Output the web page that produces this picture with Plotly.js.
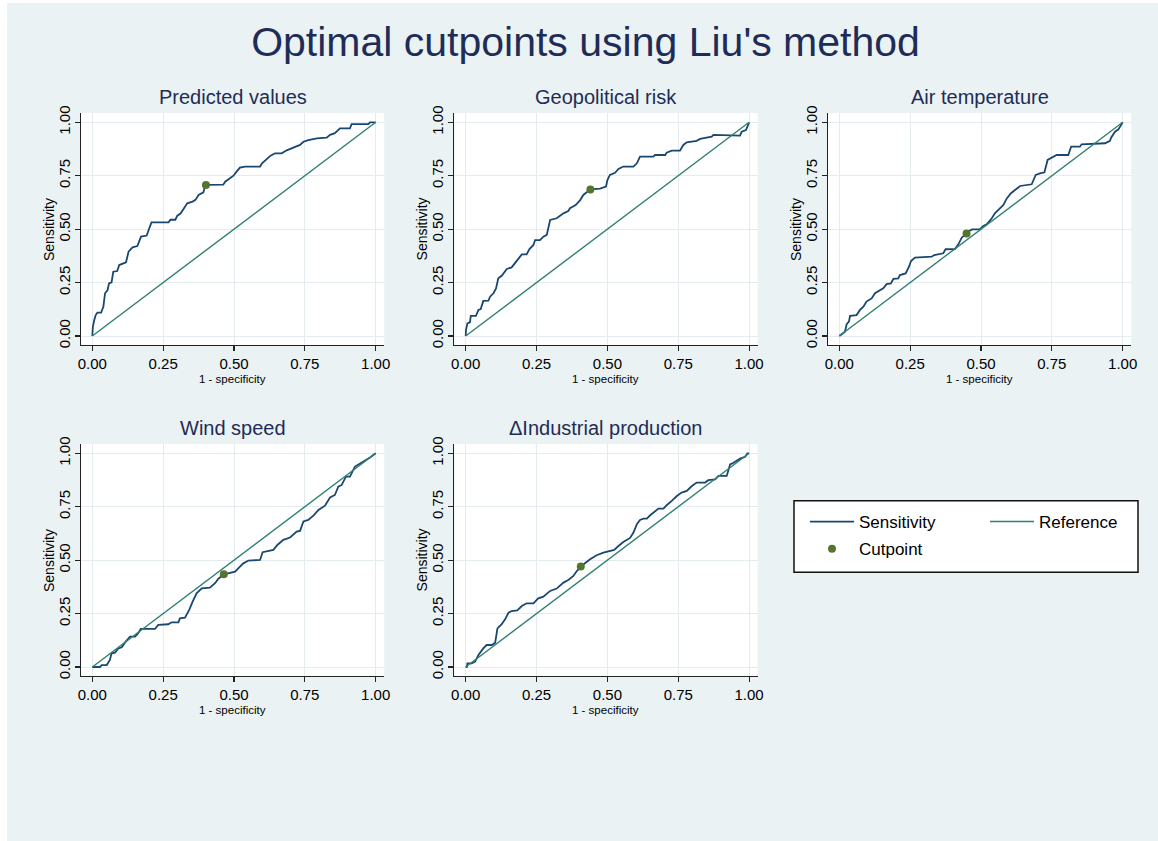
<!DOCTYPE html>
<html>
<head>
<meta charset="utf-8">
<script src="https://cdn.plot.ly/plotly-3.0.1.min.js"></script>
<style>
  html, body { margin: 0; padding: 0; background: #ffffff; }
  #chart { position: absolute; left: 7px; top: 3px; width: 1151px; height: 838px; }
</style>
</head>
<body>
<div id="chart"></div>
<script>
// ---------------- DATA ----------------
const mainTitle = "Optimal cutpoints using Liu's method";
const panelTitles = ["Predicted values", "Geopolitical risk", "Air temperature", "Wind speed", "\u0394Industrial production"];
const xAxisLabel = "1 - specificity";
const yAxisLabel = "Sensitivity";
const tickValues = [0, 0.25, 0.5, 0.75, 1];
const tickLabels = ["0.00", "0.25", "0.50", "0.75", "1.00"];
const seriesNames = ["Sensitivity", "Reference", "Cutpoint"];

const refX = [0, 1];
const refY = [0, 1];

const predFpr = [0,0.002,0.007,0.012,0.018,0.031,0.039,0.045,0.054,0.059,0.068,0.074,0.088,0.095,0.119,0.128,0.142,0.159,0.172,0.192,0.201,0.209,0.269,0.276,0.293,0.300,0.312,0.324,0.335,0.354,0.364,0.375,0.392,0.399,0.462,0.469,0.484,0.498,0.509,0.521,0.539,0.592,0.599,0.615,0.629,0.645,0.668,0.686,0.709,0.733,0.745,0.762,0.792,0.827,0.839,0.856,0.874,0.909,0.915,0.974,0.980,1];
const predSens = [0,0.044,0.075,0.098,0.109,0.109,0.137,0.200,0.215,0.246,0.251,0.301,0.304,0.332,0.345,0.395,0.415,0.421,0.465,0.470,0.504,0.532,0.532,0.544,0.544,0.563,0.574,0.598,0.621,0.629,0.637,0.660,0.672,0.707,0.708,0.722,0.738,0.750,0.769,0.788,0.793,0.793,0.808,0.828,0.844,0.855,0.855,0.869,0.881,0.894,0.909,0.917,0.925,0.928,0.941,0.949,0.972,0.972,0.991,0.991,1,1];

const geoFpr = [0,0.001,0.006,0.015,0.018,0.036,0.045,0.053,0.062,0.080,0.086,0.098,0.107,0.115,0.127,0.145,0.162,0.174,0.184,0.198,0.215,0.225,0.239,0.245,0.262,0.274,0.286,0.292,0.298,0.321,0.345,0.362,0.368,0.388,0.404,0.415,0.431,0.440,0.474,0.495,0.500,0.509,0.527,0.539,0.556,0.592,0.604,0.615,0.662,0.668,0.704,0.709,0.727,0.756,0.768,0.780,0.815,0.827,0.868,0.874,0.968,0.974,0.989,1];
const geoSens = [0,0.028,0.059,0.064,0.094,0.094,0.122,0.126,0.164,0.165,0.184,0.200,0.223,0.270,0.282,0.314,0.321,0.340,0.356,0.382,0.382,0.407,0.426,0.449,0.449,0.465,0.473,0.512,0.543,0.551,0.574,0.585,0.598,0.613,0.636,0.660,0.675,0.686,0.690,0.699,0.730,0.754,0.764,0.782,0.793,0.793,0.808,0.839,0.839,0.847,0.847,0.858,0.867,0.867,0.894,0.906,0.913,0.922,0.933,0.941,0.938,0.956,0.964,1];

const airFpr = [0,0.011,0.020,0.026,0.034,0.038,0.061,0.073,0.085,0.096,0.114,0.126,0.138,0.155,0.167,0.182,0.191,0.208,0.214,0.234,0.246,0.253,0.267,0.326,0.335,0.367,0.375,0.408,0.420,0.432,0.449,0.453,0.469,0.496,0.508,0.520,0.538,0.549,0.564,0.579,0.591,0.606,0.620,0.638,0.679,0.693,0.708,0.724,0.735,0.749,0.767,0.808,0.818,0.849,0.855,0.938,0.944,0.955,0.959,0.973,0.985,1];
const airSens = [0,0.012,0.020,0.055,0.067,0.094,0.098,0.122,0.137,0.161,0.176,0.200,0.211,0.223,0.243,0.246,0.267,0.270,0.285,0.293,0.324,0.351,0.367,0.371,0.379,0.387,0.406,0.407,0.429,0.460,0.480,0.488,0.499,0.499,0.515,0.523,0.551,0.574,0.594,0.613,0.644,0.668,0.683,0.702,0.710,0.754,0.761,0.766,0.824,0.835,0.847,0.847,0.886,0.886,0.897,0.902,0.906,0.913,0.928,0.956,0.967,1];

const windFpr = [0,0.027,0.033,0.051,0.062,0.068,0.080,0.092,0.104,0.115,0.133,0.151,0.162,0.171,0.221,0.233,0.268,0.280,0.304,0.309,0.327,0.342,0.354,0.368,0.386,0.415,0.433,0.445,0.464,0.504,0.521,0.533,0.551,0.592,0.601,0.627,0.639,0.653,0.674,0.698,0.721,0.733,0.745,0.762,0.782,0.798,0.821,0.839,0.856,0.868,0.880,0.895,0.909,0.927,0.945,0.962,0.980,1];
const windSens = [0,0,0.009,0.009,0.033,0.064,0.067,0.087,0.092,0.114,0.142,0.142,0.158,0.178,0.178,0.197,0.200,0.209,0.209,0.228,0.231,0.267,0.306,0.345,0.368,0.371,0.392,0.413,0.434,0.446,0.470,0.485,0.498,0.501,0.537,0.543,0.548,0.571,0.595,0.606,0.634,0.637,0.681,0.688,0.711,0.735,0.755,0.793,0.805,0.844,0.852,0.891,0.891,0.938,0.953,0.964,0.980,1];

const indFpr = [0,0.004,0.006,0.021,0.033,0.045,0.062,0.074,0.092,0.104,0.112,0.127,0.139,0.151,0.162,0.182,0.198,0.215,0.239,0.256,0.274,0.298,0.321,0.345,0.362,0.380,0.392,0.406,0.415,0.439,0.462,0.486,0.509,0.524,0.539,0.556,0.580,0.592,0.604,0.615,0.627,0.639,0.651,0.668,0.680,0.698,0.709,0.727,0.745,0.762,0.780,0.798,0.815,0.845,0.856,0.880,0.892,0.921,0.933,0.945,0.968,0.986,0.994,1];
const indSens = [0,0,0.017,0.017,0.025,0.056,0.087,0.103,0.103,0.114,0.181,0.200,0.223,0.254,0.262,0.265,0.285,0.298,0.298,0.321,0.329,0.356,0.367,0.395,0.407,0.426,0.449,0.470,0.480,0.504,0.523,0.535,0.543,0.548,0.566,0.585,0.604,0.629,0.668,0.688,0.694,0.694,0.710,0.730,0.741,0.741,0.757,0.777,0.800,0.816,0.824,0.847,0.863,0.863,0.874,0.878,0.894,0.894,0.948,0.956,0.975,0.984,1,1];

const cutFpr = [0.401, 0.440, 0.449, 0.464, 0.406];
const cutSens = [0.707, 0.686, 0.480, 0.434, 0.470];

const panelFpr = [predFpr, geoFpr, airFpr, windFpr, indFpr];
const panelSens = [predSens, geoSens, airSens, windSens, indSens];

// ---------------- STYLE / LAYOUT ----------------
const W = 1151, H = 838, OX = 7, OY = 3;   // div size and page offset
const PXU = 283.4, PYU = 213.7;            // pixels per data unit
const xRange = [-0.04, 1.03], yRange = [-0.042, 1.043];
// page pixel position of data (0, 1) for each panel
const panelOrigins = [[92.3, 122.3], [465.7, 122.3], [839.3, 122.3], [92.3, 453.3], [465.7, 453.3]];

const navy = '#1a476f', refColor = '#2f7f6f', cutColor = '#55752f';
const bg = '#eaf2f3', titleColor = '#1e2c57', gridColor = '#e4ecef';
const FONT = 'Liberation Sans, Arial, sans-serif';

const traces = [];
const layout = {
  width: W, height: H,
  margin: {l: 0, r: 0, t: 0, b: 0},
  paper_bgcolor: bg, plot_bgcolor: '#ffffff',
  font: {family: FONT, color: '#000000'},
  title: {text: mainTitle, font: {size: 41, color: titleColor, family: FONT},
          xref: 'container', yref: 'container', x: (585.5 - OX) / W, y: 1 - (42 - OY) / H,
          xanchor: 'center', yanchor: 'middle'},
  showlegend: true,
  legend: {x: (805 - OX) / W, y: 1 - (504 - OY) / H, xanchor: 'left', yanchor: 'top',
           bgcolor: 'rgba(0,0,0,0)', borderwidth: 0, font: {size: 17, family: FONT},
           itemwidth: 44, tracegroupgap: 2, traceorder: 'grouped'},
  legend2: {x: (985 - OX) / W, y: 1 - (504 - OY) / H, xanchor: 'left', yanchor: 'top',
           bgcolor: 'rgba(0,0,0,0)', borderwidth: 0, font: {size: 17, family: FONT},
           itemwidth: 44},
  annotations: [],
  shapes: [{type: 'rect', xref: 'paper', yref: 'paper', layer: 'below',
            x0: (794 - OX) / W, x1: (1138 - OX) / W, y0: 1 - (572.3 - OY) / H, y1: 1 - (500.7 - OY) / H,
            fillcolor: '#ffffff', line: {color: '#111111', width: 1.5}}]
};

panelOrigins.forEach(function(o, i) {
  const n = i + 1;
  const xa = 'xaxis' + (n === 1 ? '' : n), ya = 'yaxis' + (n === 1 ? '' : n);
  const xr = 'x' + (n === 1 ? '' : n), yr = 'y' + (n === 1 ? '' : n);
  const left = o[0] + xRange[0] * PXU, right = o[0] + xRange[1] * PXU;
  const top = o[1] - (yRange[1] - 1) * PYU, bottom = o[1] + (1 - yRange[0]) * PYU;
  const common = {
    showgrid: true, gridcolor: gridColor, gridwidth: 1, zeroline: false,
    showline: true, linecolor: '#222222', linewidth: 1.2, mirror: false,
    ticks: 'outside', ticklen: 5, tickwidth: 1.2, tickcolor: '#222222',
    tickvals: tickValues, ticktext: tickLabels,
    tickfont: {size: 15, family: FONT, color: '#000000'}, fixedrange: true
  };
  layout[xa] = Object.assign({}, common, {domain: [(left - OX) / W, (right - OX) / W], range: xRange, anchor: yr});
  layout[ya] = Object.assign({}, common, {domain: [1 - (bottom - OY) / H, 1 - (top - OY) / H], range: yRange,
                                         anchor: xr, tickangle: -90, ticklabelstandoff: -1});

  traces.push({type: 'scatter', mode: 'lines', x: panelFpr[i], y: panelSens[i], xaxis: xr, yaxis: yr,
               name: seriesNames[0], line: {color: navy, width: 1.8}, showlegend: i === 0,
               legend: 'legend', legendgroup: 'a', hoverinfo: 'skip'});
  traces.push({type: 'scatter', mode: 'lines', x: refX, y: refY, xaxis: xr, yaxis: yr,
               name: seriesNames[1], line: {color: refColor, width: 1.4}, showlegend: i === 0,
               legend: 'legend2', legendgroup: 'b', hoverinfo: 'skip'});
  traces.push({type: 'scatter', mode: 'markers', x: [cutFpr[i]], y: [cutSens[i]], xaxis: xr, yaxis: yr,
               name: seriesNames[2], marker: {color: cutColor, size: 8}, showlegend: i === 0,
               legend: 'legend', legendgroup: 'c', hoverinfo: 'skip'});

  layout.annotations.push({text: panelTitles[i], xref: xr + ' domain', yref: yr + ' domain', x: 0.5, y: 1,
    xanchor: 'center', yanchor: 'middle', yshift: 16, showarrow: false, font: {size: 20, color: titleColor, family: FONT}});
  layout.annotations.push({text: yAxisLabel, xref: xr + ' domain', yref: yr + ' domain', x: 0, y: 0.5,
    xanchor: 'center', yanchor: 'middle', xshift: -32, textangle: -90, showarrow: false, font: {size: 14, family: FONT}});
  layout.annotations.push({text: xAxisLabel, xref: xr + ' domain', yref: yr + ' domain', x: 0.5, y: 0,
    xanchor: 'center', yanchor: 'middle', yshift: -34, showarrow: false, font: {size: 11.5, family: FONT}});
});

Plotly.newPlot('chart', traces, layout, {displayModeBar: false, staticPlot: true});
</script>
</body>
</html>
